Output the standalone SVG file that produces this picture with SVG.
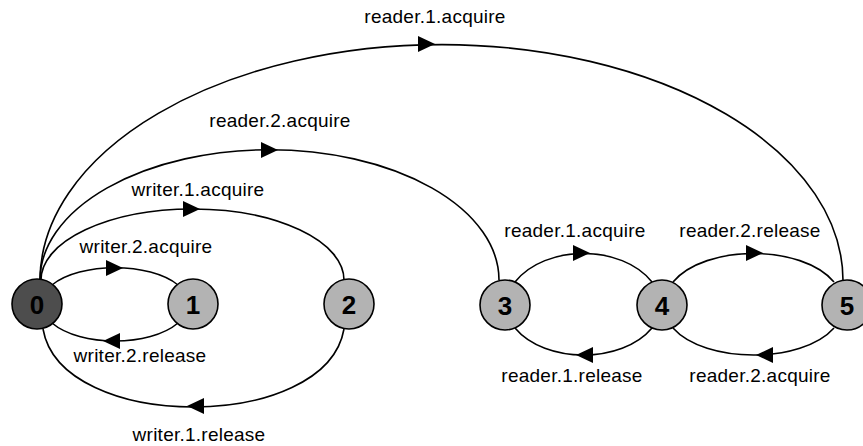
<svg xmlns="http://www.w3.org/2000/svg" xmlns:xlink="http://www.w3.org/1999/xlink" width="863" height="446" viewBox="0 0 863 446">
<style>
.edge{fill:none;stroke:#000;stroke-width:1.6}
.node circle{stroke:#000;stroke-width:1.6}
.lt{fill:#b3b3b3}
.dk{fill:#4d4d4d}
.nl{font-family:"Liberation Sans",Arial,sans-serif;font-weight:bold;font-size:26px;fill:#000;text-anchor:middle}
.lbl{font-family:"Liberation Sans",Arial,sans-serif;font-size:19px;letter-spacing:0.25px;fill:#000;text-anchor:middle}
</style>
<defs>
<polygon id="ah" points="0,0 -17,-8 -17,8" fill="#000"/>
</defs>
<rect width="863" height="446" fill="#fff"/>
<g id="connectors">
<path class="edge" d="M40,280 A401.5,236 0 0 1 843,281"/>
<use xlink:href="#ah" transform="translate(435,44)"/>
<path class="edge" d="M40,280 A229,130 0 0 1 499,280"/>
<use xlink:href="#ah" transform="translate(278,150)"/>
<path class="edge" d="M41,280 A151.5,71 0 0 1 344,280"/>
<use xlink:href="#ah" transform="translate(200,209)"/>
<path class="edge" d="M52,285 C80,262 150,262 178,285"/>
<use xlink:href="#ah" transform="translate(123,268)"/>
<path class="edge" d="M178,323 C150,347 80,347 52,323"/>
<use xlink:href="#ah" transform="translate(103,341) rotate(180)"/>
<path class="edge" d="M344,329 C326,433 61,433 43,329"/>
<use xlink:href="#ah" transform="translate(187,406) rotate(180)"/>
<path class="edge" d="M515,282 C545,244 622,244 652,282"/>
<use xlink:href="#ah" transform="translate(590,253)"/>
<path class="edge" d="M652,328 C622,364 545,364 515,328"/>
<use xlink:href="#ah" transform="translate(576,355) rotate(180)"/>
<path class="edge" d="M673,282 C705,244 802,244 834,282"/>
<use xlink:href="#ah" transform="translate(763,253)"/>
<path class="edge" d="M834,328 C802,364 705,364 673,328"/>
<use xlink:href="#ah" transform="translate(756,355) rotate(180)"/>
<text class="lbl" x="435" y="23">reader.1.acquire</text>
<text class="lbl" x="280" y="127">reader.2.acquire</text>
<text class="lbl" x="198" y="196">writer.1.acquire</text>
<text class="lbl" x="146" y="253">writer.2.acquire</text>
<text class="lbl" x="140" y="362">writer.2.release</text>
<text class="lbl" x="199" y="441">writer.1.release</text>
<text class="lbl" x="575" y="237">reader.1.acquire</text>
<text class="lbl" x="750" y="237">reader.2.release</text>
<text class="lbl" x="572" y="382">reader.1.release</text>
<text class="lbl" x="760" y="382">reader.2.acquire</text>
</g>
<g id="n0" class="node"><circle class="dk" cx="37" cy="304" r="25"/><text class="nl" x="37" y="313.5">0</text></g>
<g id="n1" class="node"><circle class="lt" cx="193" cy="304" r="25"/><text class="nl" x="193" y="313.5">1</text></g>
<g id="n2" class="node"><circle class="lt" cx="349" cy="304" r="25"/><text class="nl" x="349" y="313.5">2</text></g>
<g id="n3" class="node"><circle class="lt" cx="505" cy="305" r="25"/><text class="nl" x="505" y="314.5">3</text></g>
<g id="n4" class="node"><circle class="lt" cx="662" cy="305" r="25"/><text class="nl" x="662" y="314.5">4</text></g>
<g id="n5" class="node"><circle class="lt" cx="847" cy="305" r="25"/><text class="nl" x="847" y="314.5">5</text></g>
</svg>
